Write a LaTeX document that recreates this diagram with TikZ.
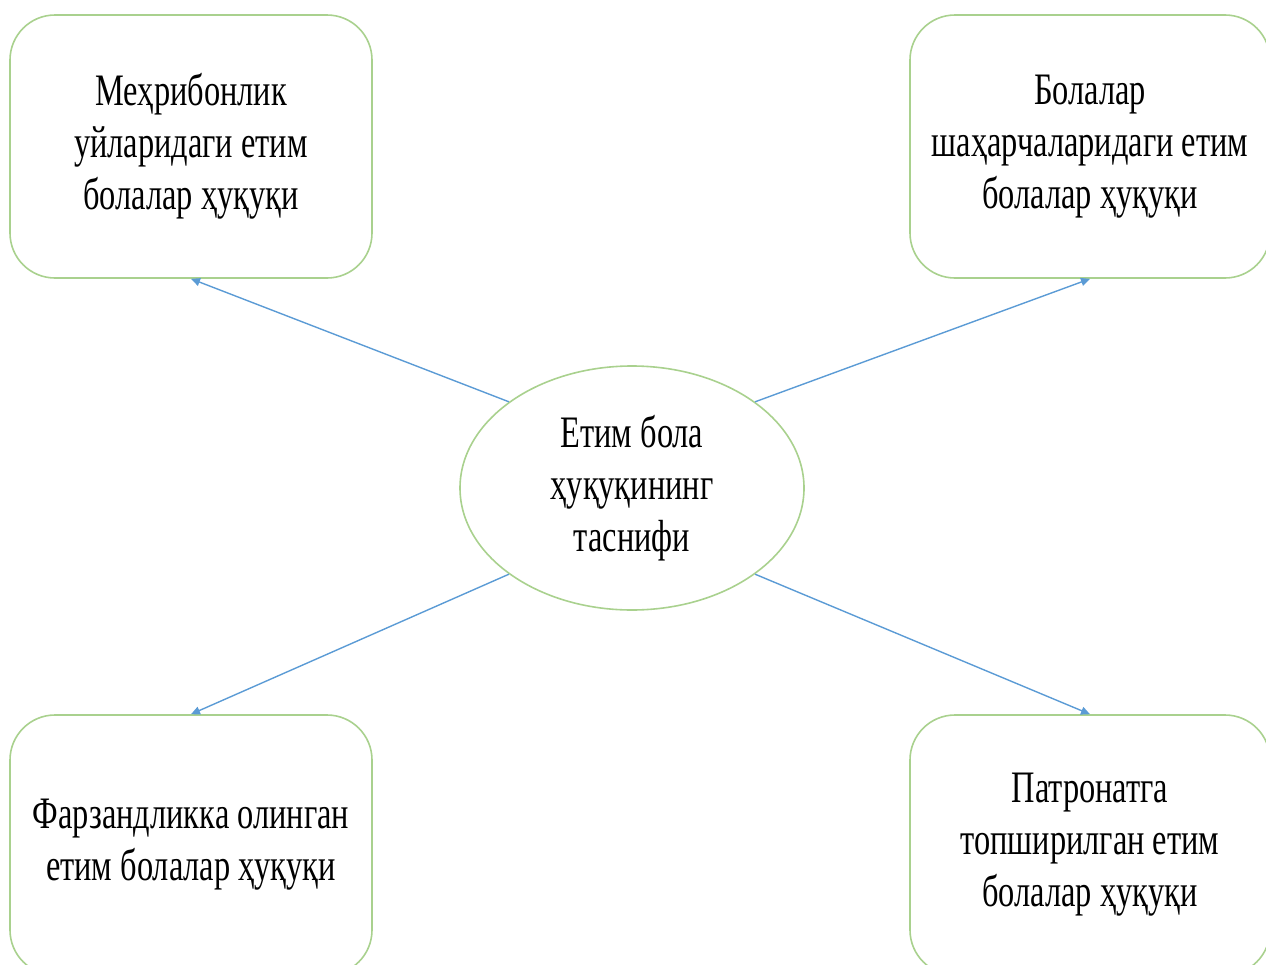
\documentclass[tikz,border=0pt]{standalone}
\usepackage{fontspec}
\setmainfont{Liberation Serif}[FakeStretch=0.72]
\usepackage{xcolor}
\usepackage{tikz}
\usetikzlibrary{arrows.meta, positioning, shapes.geometric}

\definecolor{boxgreen}{HTML}{A9D18E}
\definecolor{arrowblue}{HTML}{5B9BD5}

\begin{document}
\begin{tikzpicture}[
    x=1pt, y=-1pt,
    kind/.style={draw=boxgreen, line width=1.6pt, rounded corners=45pt,
                 minimum width=362pt, minimum height=263pt, align=center,
                 font=\fontsize{45}{52}\selectfont, inner sep=0pt},
    hub/.style={draw=boxgreen, line width=1.6pt, ellipse,
                minimum width=344pt, minimum height=244pt, align=center,
                font=\fontsize{45}{52}\selectfont, inner sep=0pt},
    arr/.style={draw=arrowblue, line width=1.4pt,
                -{Triangle[length=9pt, width=8pt]}},
  ]
  \useasboundingbox (0,0) rectangle (1266,964);

  % centre
  \node[hub] (etim) at (632,488) {Етим бола\\ҳуқуқининг\\таснифи};

  % four kinds
  \node[kind] (mehr) at (191,146.5) {Меҳрибонлик\\уйларидаги етим\\болалар ҳуқуқи};
  \node[kind, minimum width=360pt] (shahar) at (1090,146.5) {Болалар\\шаҳарчаларидаги етим\\болалар ҳуқуқи};
  \node[kind, minimum height=260pt] (farzand) at (191,845) {Фарзандликка олинган\\етим болалар ҳуқуқи};
  \node[kind, minimum width=360pt, minimum height=260pt] (patron) at (1090,845) {Патронатга\\топширилган етим\\болалар ҳуқуқи};

  % arrows
  \draw[arr] (etim.145) -- (mehr.south);
  \draw[arr] (etim.35) -- (shahar.south);
  \draw[arr] (etim.215) -- (farzand.north);
  \draw[arr] (etim.325) -- (patron.north);
\end{tikzpicture}
\end{document}
